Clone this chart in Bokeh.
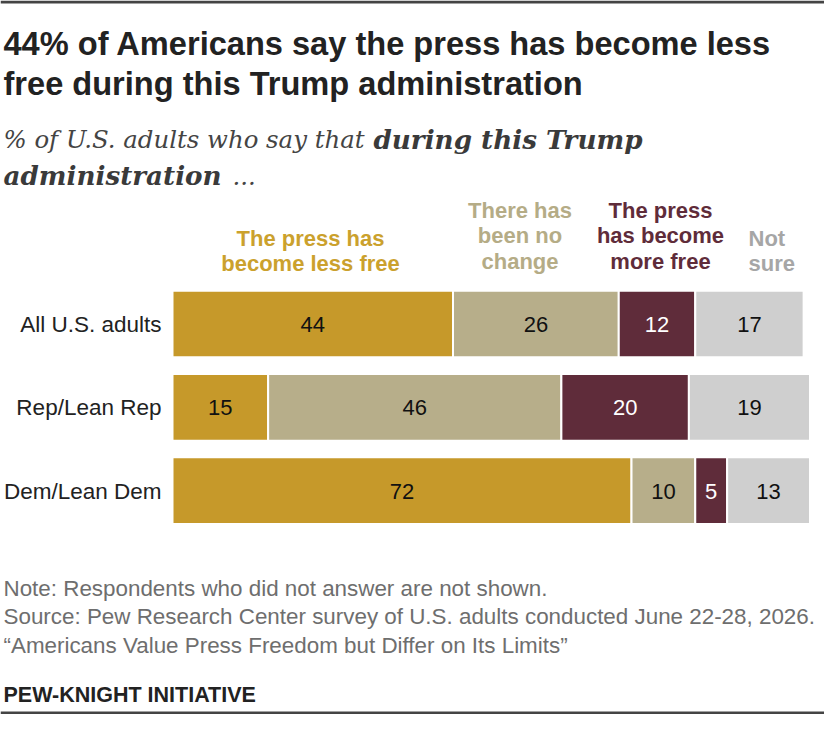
from bokeh.plotting import figure
from bokeh.models import ColumnDataSource, Range1d, Label, BoxAnnotation
from bokeh.core.properties import value
from bokeh.embed import file_html
from bokeh.resources import INLINE

# ---- data ----
categories = ["All U.S. adults", "Rep/Lean Rep", "Dem/Lean Dem"]
less_free = [44, 15, 72]
no_change = [26, 46, 10]
more_free = [12, 20, 5]
not_sure = [17, 19, 13]
series_names = ["less_free", "no_change", "more_free", "not_sure"]

title_lines = ["44% of Americans say the press has become less",
               "free during this Trump administration"]
notes = ["Note: Respondents who did not answer are not shown.",
         "Source: Pew Research Center survey of U.S. adults conducted June 22-28, 2026.",
         "\u201cAmericans Value Press Freedom but Differ on Its Limits\u201d"]

bar_colors = ["#C6992A", "#B7AE8A", "#5F2C3A", "#CFCFCF"]
legend_colors = ["#CBA12D", "#B5AC86", "#5F2C3A", "#A6A6A6"]
value_colors = ["#111111", "#111111", "#FFFFFF", "#111111"]

W, H = 824, 714
X0 = 172.0      # screen x of 0%
PX = 6.375      # px per percent
ROW0 = 323.5    # screen y (from top) of first row center
ROWSP = 83.35   # px per row
SH = 8.0        # text baseline correction

x_start = -X0 / PX
x_end = (W - X0) / PX
y_top = -ROW0 / ROWSP
y_bot = y_top + H / ROWSP

p = figure(width=W, height=H, output_backend="svg", toolbar_location=None,
           x_axis_type=None, y_axis_type=None,
           x_range=Range1d(x_start, x_end), y_range=Range1d(y_bot, y_top),
           min_border=0, outline_line_color=None, background_fill_color="white",
           border_fill_color="white")

# top and bottom rules
for b, t in [(H - 3, H), (0, 3)]:
    p.add_layout(BoxAnnotation(left=0, right=W, bottom=b, top=t,
                               left_units="screen", right_units="screen",
                               bottom_units="screen", top_units="screen",
                               fill_color="#444444", fill_alpha=1, line_color=None))

rows = list(range(len(categories)))
src = ColumnDataSource(dict(y=rows, less_free=less_free, no_change=no_change,
                            more_free=more_free, not_sure=not_sure))
p.hbar_stack(series_names, y="y", height=0.80, color=bar_colors, source=src,
             line_color="white", line_width=2)

# value labels
vx, vy, vt, vc = [], [], [], []
series = [less_free, no_change, more_free, not_sure]
for r in rows:
    cum = 0
    for s, col in zip(series, value_colors):
        v = s[r]
        vx.append(cum + v / 2)
        vy.append(r)
        vt.append(str(v))
        vc.append(col)
        cum += v
p.text(x=vx, y=vy, text=vt, text_color=vc, text_align="center",
       text_baseline="alphabetic", y_offset=8.5 - SH,
       text_font=value("Liberation Sans"), text_font_size="22px")

# row labels
p.text(x=[-1.73] * 3, y=rows, text=categories, text_color="#222222",
       text_align="right", text_baseline="alphabetic", y_offset=8.5 - SH,
       text_font=value("Liberation Sans"), text_font_size="22.5px")


def lab(text, x, ytop, size, color, font="Liberation Sans", style="normal",
        align="left"):
    p.add_layout(Label(x=x, y=H - (ytop - SH), x_units="screen", y_units="screen",
                       text=text, text_font=font, text_font_size=size,
                       text_font_style=style, text_color=color,
                       text_align=align, text_baseline="alphabetic"))


# title
lab(title_lines[0], 3, 51, "32.6px", "#222222", style="bold")
lab(title_lines[1], 3, 91, "32.6px", "#222222", style="bold")

# subtitle
SF = "DejaVu Serif"
lab("% of U.S. adults who say that", 3, 147, "24.4px", "#444444", font=SF, style="italic")
lab("during this Trump", 373, 147, "26.2px", "#3A3A3A", font=SF, style="bold italic")
lab("administration", 3, 183, "26.2px", "#3A3A3A", font=SF, style="bold italic")
lab("...", 232, 183, "24.4px", "#444444", font=SF, style="italic")

# legend labels
LS = "22px"
lab("The press has", 310, 245.7, LS, legend_colors[0], style="bold", align="center")
lab("become less free", 310, 271, LS, legend_colors[0], style="bold", align="center")
lab("There has", 519.5, 217.7, LS, legend_colors[1], style="bold", align="center")
lab("been no", 519.5, 243.3, LS, legend_colors[1], style="bold", align="center")
lab("change", 519.5, 269, LS, legend_colors[1], style="bold", align="center")
lab("The press", 660, 217.7, LS, legend_colors[2], style="bold", align="center")
lab("has become", 660, 243.3, LS, legend_colors[2], style="bold", align="center")
lab("more free", 660, 269, LS, legend_colors[2], style="bold", align="center")
lab("Not", 748, 245.7, LS, legend_colors[3], style="bold")
lab("sure", 748, 271, LS, legend_colors[3], style="bold")

# footer
for t, yy in zip(notes, [596, 624.3, 653.3]):
    lab(t, 3, yy, "22.4px", "#6E6E6E")
lab("PEW-KNIGHT INITIATIVE", 3, 702.7, "21.5px", "#222222", style="bold")

open("out.html", "w").write(file_html(p, INLINE))
